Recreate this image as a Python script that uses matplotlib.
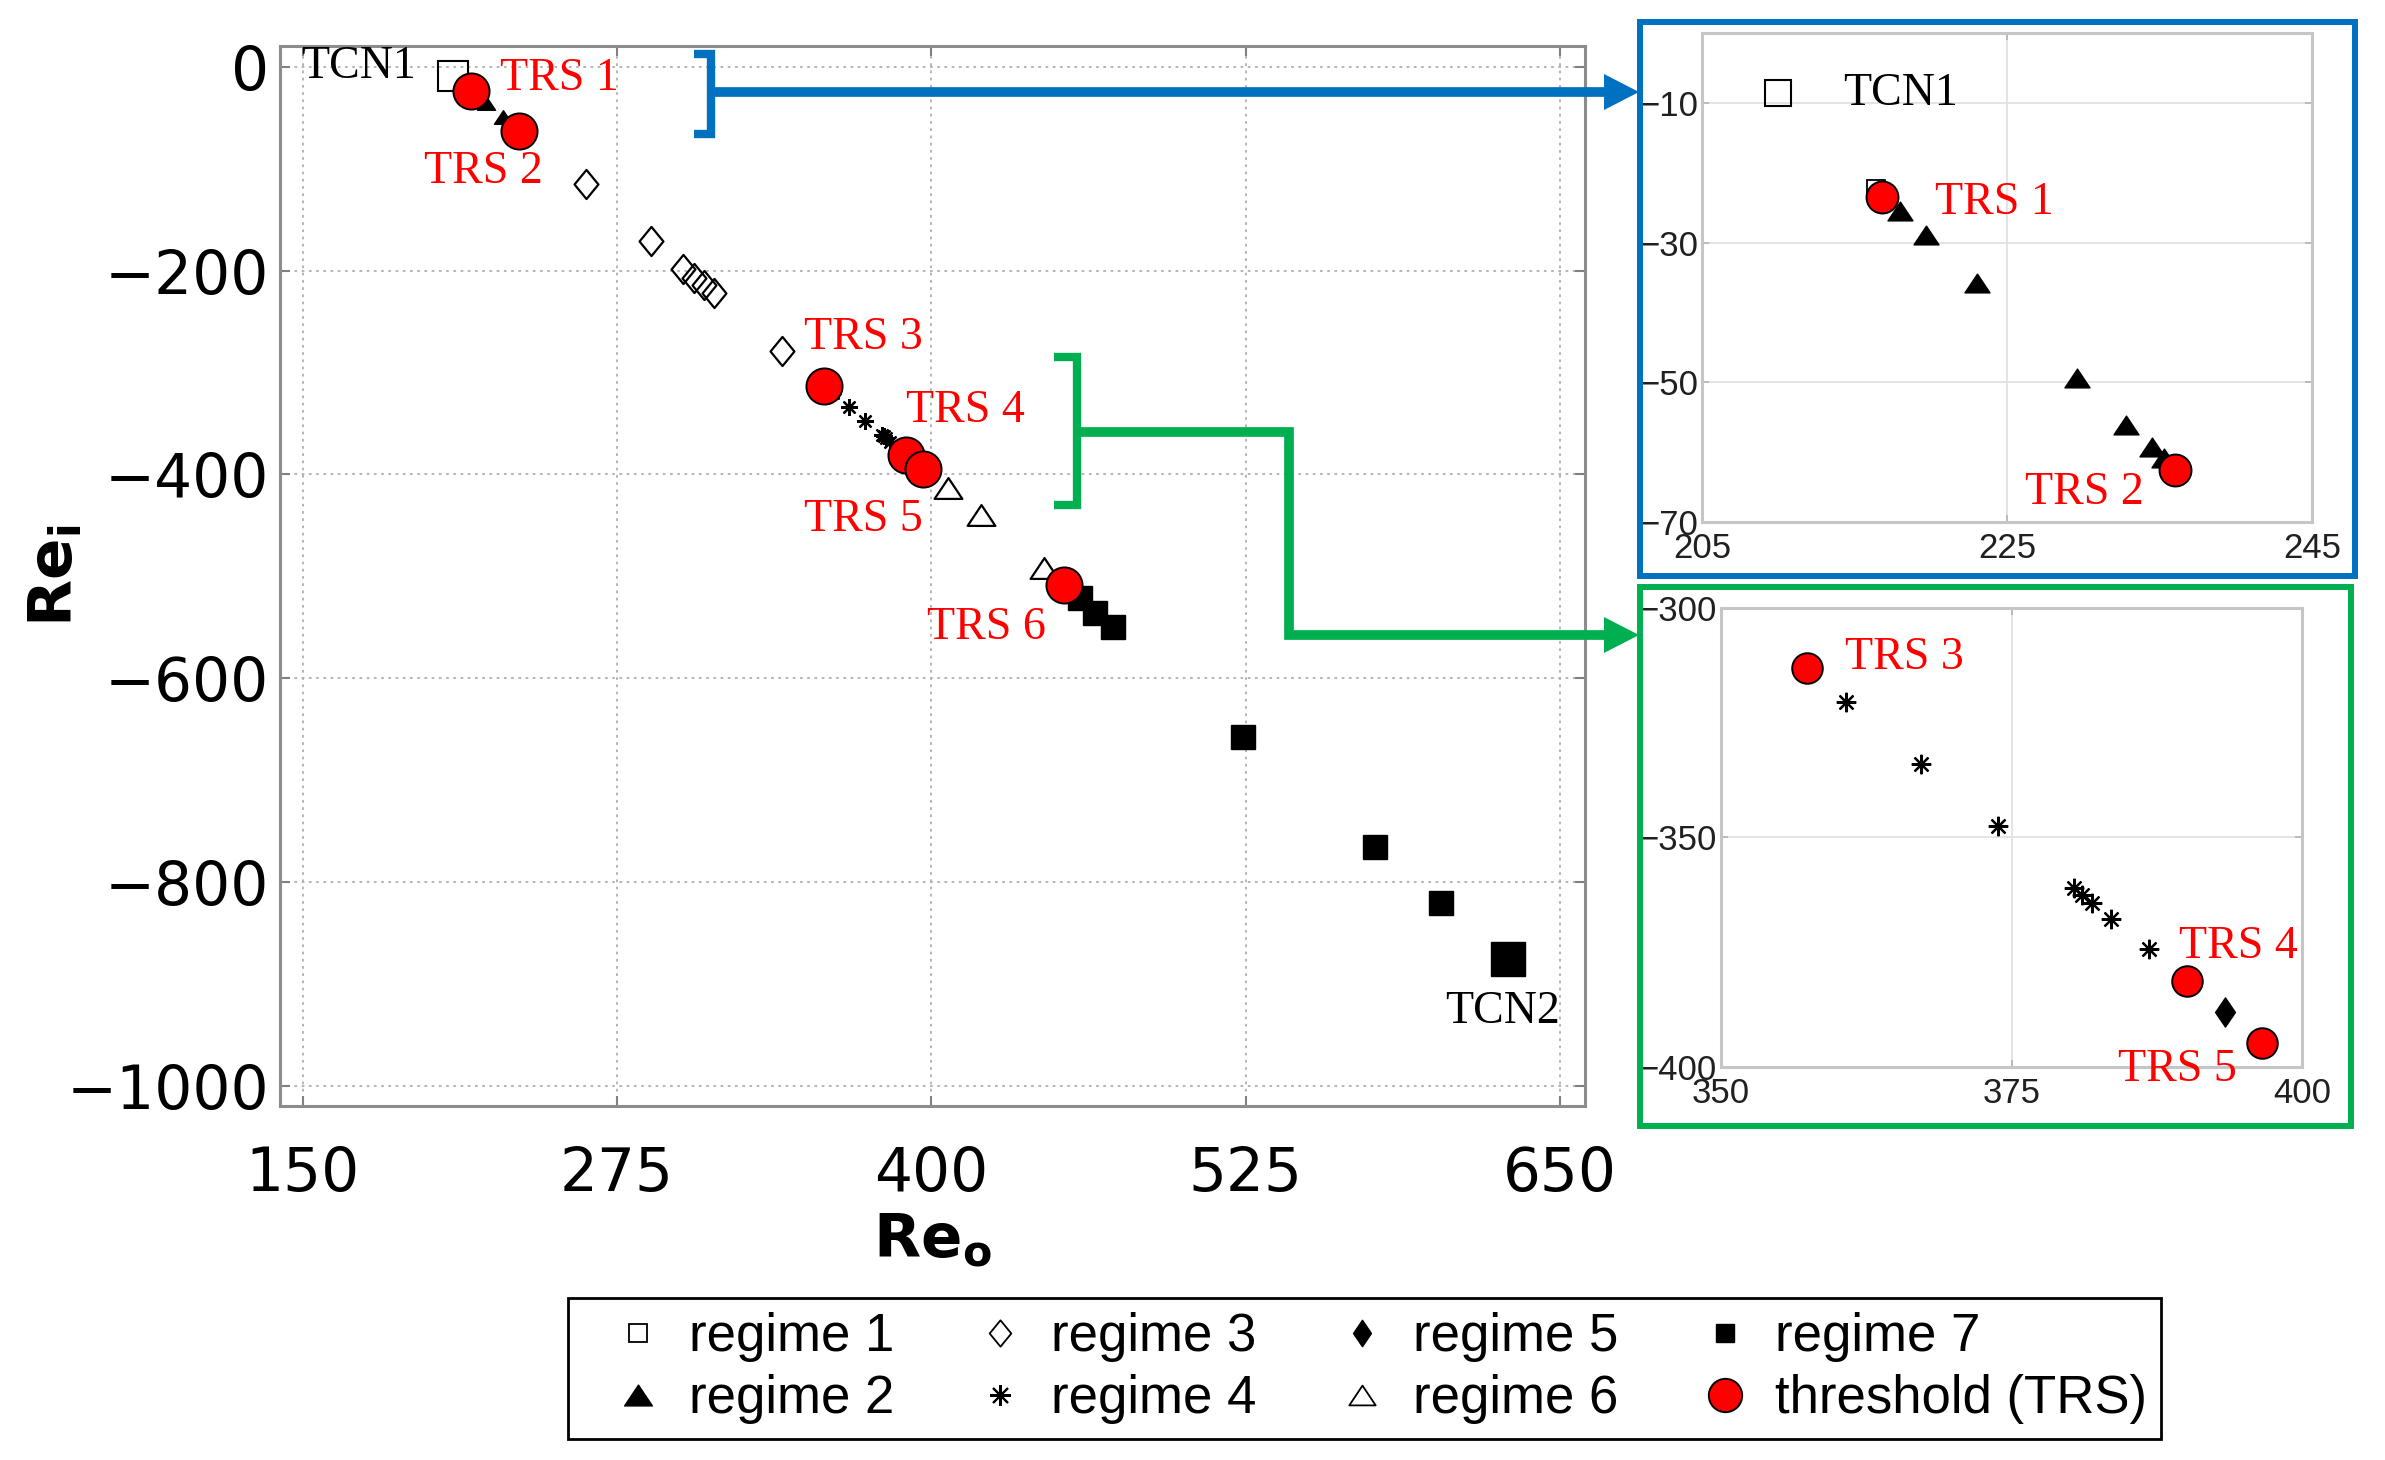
import matplotlib
matplotlib.use('Agg')
import matplotlib.pyplot as plt
from matplotlib.lines import Line2D
from matplotlib.patches import Rectangle, Polygon
from matplotlib.path import Path
from matplotlib import font_manager as fm

# ---------------- data ----------------
regime1_x = [216.4]
regime1_y = [-22.3]
regime2_x = [218.0, 219.7, 223.0, 229.6, 232.8, 234.5, 235.3]
regime2_y = [-25.5, -28.9, -35.7, -49.3, -56.1, -59.3, -60.8]
regime3_x = [262.5, 288.6, 301.2, 305.8, 309.8, 313.8, 340.7]
regime3_y = [-115.4, -170.5, -198.6, -206.9, -214.0, -222.2, -279.0]
regime4_x = [360.8, 367.2, 373.8, 380.4, 381.1, 381.9, 383.6, 386.8]
regime4_y = [-320.5, -333.9, -347.4, -361.0, -362.6, -364.3, -367.8, -374.4]
regime5_x = [393.4]
regime5_y = [-388.1]
regime6_x = [406.5, 419.7, 445.0]
regime6_y = [-413.4, -439.6, -492.0]
regime7_x = [459.0, 465.0, 472.2, 524.0, 576.4, 602.7, 629.3]
regime7_y = [-521.0, -536.0, -550.2, -658.0, -766.2, -820.3, -875.3]

trs_names = ['TRS 1', 'TRS 2', 'TRS 3', 'TRS 4', 'TRS 5', 'TRS 6']
trs_x = [216.8, 236.0, 357.4, 390.1, 396.6, 452.6]
trs_y = [-23.5, -62.5, -313.0, -381.2, -394.8, -508.4]

tcn_names = ['TCN1', 'TCN2']
tcn_x = [210.0, 629.3]
tcn_y = [-8.5, -875.3]

legend_labels = ['regime 1', 'regime 2', 'regime 3', 'regime 4',
                 'regime 5', 'regime 6', 'regime 7', 'threshold (TRS)']

main_xticks = [150, 275, 400, 525, 650]
main_yticks = [0, -200, -400, -600, -800, -1000]
blue_xticks = [205, 225, 245]
blue_yticks = [-10, -30, -50, -70]
green_xticks = [350, 375, 400]
green_yticks = [-300, -350, -400]

# annotation anchors (data coords of each panel)
main_trs_lx = [252.1, 221.9, 373.0, 413.5, 373.0, 421.9]
main_trs_ly = [-11.8, -103.0, -266.0, -337.7, -444.8, -550.8]
main_tcn_lx = [172.3, 627.0]
main_tcn_ly = [0.0, -927.0]
blue_lbl = [('TCN1', 218.0, -8.7, 'k'), ('TRS 1', 224.2, -24.2, 'red'), ('TRS 2', 230.1, -65.8, 'red')]
green_lbl = [('TRS 3', 365.8, -310.9, 'red'), ('TRS 4', 394.5, -373.7, 'red'), ('TRS 5', 389.3, -400.5, 'red')]

# ---------------- setup ----------------
W, H = 2385, 1460
fig = plt.figure(figsize=(W / 100, H / 100), dpi=100)
fig.patch.set_facecolor('white')


def F(px, py):
    return (px / W, 1 - py / H)


def has_font(name):
    try:
        fm.findfont(fm.FontProperties(family=name), fallback_to_default=False)
        return True
    except Exception:
        return False


if has_font('Liberation Sans Narrow'):
    inset_font, inset_fs = 'Liberation Sans Narrow', 28
else:
    inset_font, inset_fs = 'Liberation Sans', 25

serif = 'Liberation Serif'

tri_path = Path([(0, 0.75), (-1, -0.75), (1, -0.75), (0, 0.75)], closed=True)
dia_path = Path([(0, 1), (0.82, 0), (0, -1), (-0.82, 0), (0, 1)], closed=True)
fdia_path = Path([(0, 1), (0.68, 0), (0, -1), (-0.68, 0), (0, 1)], closed=True)
star_marker = (8, 2, 0)


def draw_series(ax, s):
    ax.plot(regime1_x, regime1_y, ls='none', marker='s', ms=s['r1'], mfc='none', mec='k', mew=1.3, zorder=3)
    ax.plot(regime2_x, regime2_y, ls='none', marker=tri_path, ms=s['r2'], mfc='k', mec='k', mew=1.0, zorder=3)
    ax.plot(regime3_x, regime3_y, ls='none', marker=dia_path, ms=s['r3'], mfc='none', mec='k', mew=1.6, zorder=3)
    ax.plot(regime4_x, regime4_y, ls='none', marker=star_marker, ms=s['r4'], mec='k', mew=1.6, zorder=3)
    ax.plot(regime5_x, regime5_y, ls='none', marker=fdia_path, ms=s['r5'], mfc='k', mec='k', mew=1.0, zorder=3)
    ax.plot(regime6_x, regime6_y, ls='none', marker=tri_path, ms=s['r6'], mfc='none', mec='k', mew=1.6, zorder=3)
    ax.plot(regime7_x, regime7_y, ls='none', marker='s', ms=s['r7'], mfc='k', mec='k', mew=1.0, zorder=3)
    ax.plot(tcn_x[:1], tcn_y[:1], ls='none', marker='s', ms=s['tcn1'], mfc='none', mec='k', mew=1.5, zorder=3)
    ax.plot(tcn_x[1:], tcn_y[1:], ls='none', marker='s', ms=s['tcn2'], mfc='k', mec='k', mew=1.0, zorder=3)
    ax.plot(trs_x, trs_y, ls='none', marker='o', ms=s['trs'], mfc='#ff0000', mec='k', mew=1.4, zorder=5)


# ---------------- main axes ----------------
ax = fig.add_axes([280 / W, 1 - 1106 / H, 1305 / W, 1060 / H])
ax.set_xlim(141, 660)
ax.set_ylim(-1020, 20.5)
ax.set_xticks(main_xticks)
ax.set_yticks(main_yticks)
ax.set_axisbelow(True)
ax.grid(True, color='#b0b0b0', lw=1.3, ls=(0, (1.5, 2.5)))
for sp in ax.spines.values():
    sp.set_color('#8c8c8c')
    sp.set_linewidth(2.2)
ax.tick_params(direction='in', length=7, width=1.5, color='#808080',
               top=True, right=True, labelsize=43)
ax.tick_params(axis='x', pad=28)
ax.tick_params(axis='y', pad=8)
for lab in ax.get_xticklabels() + ax.get_yticklabels():
    lab.set_fontfamily('DejaVu Sans')

draw_series(ax, dict(r1=9, r2=13, r3=21, r4=12, r5=14, r6=20, r7=17, trs=26, tcn1=22, tcn2=24))

for name, lx, ly in zip(trs_names, main_trs_lx, main_trs_ly):
    ax.text(lx, ly, name, color='#ff0000', fontsize=33, family=serif, ha='center', va='center', zorder=6)
for name, lx, ly in zip(tcn_names, main_tcn_lx, main_tcn_ly):
    ax.text(lx, ly, name, color='k', fontsize=33, family=serif, ha='center', va='center', zorder=6)

ax.set_xlabel(r'$\mathbf{Re}_{\mathbf{o}}$', fontsize=44)
ax.set_ylabel(r'$\mathbf{Re}_{\mathbf{i}}$', fontsize=44)
ax.xaxis.set_label_coords(0.5, -0.1)
ax.yaxis.set_label_coords(-0.149, 0.5)


# ---------------- insets ----------------
def style_inset(a, xlim, ylim, xt, yt):
    a.set_xlim(xlim)
    a.set_ylim(ylim)
    a.set_xticks(xt)
    a.set_yticks(yt)
    a.set_axisbelow(True)
    a.grid(True, color='#e2e2e2', lw=1.3, ls='-')
    for sp in a.spines.values():
        sp.set_color('#c6c6c6')
        sp.set_linewidth(2.2)
    a.tick_params(direction='in', length=5, width=1.2, color='#b4b4b4',
                  top=True, right=True, labelsize=inset_fs, labelcolor='#202020')
    a.tick_params(axis='x', pad=7)
    a.tick_params(axis='y', pad=3)
    for lab in a.get_xticklabels() + a.get_yticklabels():
        lab.set_fontfamily(inset_font)


axb = fig.add_axes([1702 / W, 1 - 522 / H, (2312 - 1702) / W, (522 - 33.5) / H])
style_inset(axb, (205, 245), (-70, 0), blue_xticks, blue_yticks)
draw_series(axb, dict(r1=13, r2=18, r3=21, r4=14, r5=21, r6=20, r7=17, trs=23, tcn1=19, tcn2=24))
for t, lx, ly, c in blue_lbl:
    axb.text(lx, ly, t, color=('#ff0000' if c == 'red' else c), fontsize=33, family=serif,
             ha='center', va='center', zorder=6)

axg = fig.add_axes([1721 / W, 1 - 1067 / H, (2302 - 1721) / W, (1067 - 608) / H])
style_inset(axg, (350, 400), (-400, -300), green_xticks, green_yticks)
draw_series(axg, dict(r1=13, r2=18, r3=21, r4=14, r5=21, r6=20, r7=17, trs=22, tcn1=19, tcn2=24))
for t, lx, ly, c in green_lbl:
    axg.text(lx, ly, t, color='#ff0000', fontsize=33, family=serif,
             ha='center', va='center', zorder=6)

# ---------------- boxes, brackets, arrows ----------------
BLUE = '#0070C0'
GREEN = '#00B050'


def box(x0, y0, x1, y1, color):
    (fx0, fy1) = F(x0, y1)
    rect = Rectangle((fx0, fy1), (x1 - x0) / W, (y1 - y0) / H, transform=fig.transFigure,
                     fill=False, ec=color, lw=4.3, joinstyle='miter', zorder=10)
    fig.add_artist(rect)


def poly(points, color, lw=7):
    xs = [F(px, py)[0] for px, py in points]
    ys = [F(px, py)[1] for px, py in points]
    fig.add_artist(Line2D(xs, ys, transform=fig.transFigure, color=color, lw=lw,
                          solid_capstyle='butt', solid_joinstyle='miter', zorder=10))


def head(tipx, tipy, color):
    pts = [F(tipx - 35, tipy - 18), F(tipx, tipy), F(tipx - 35, tipy + 18)]
    fig.add_artist(Polygon(pts, closed=True, transform=fig.transFigure, fc=color, ec=color,
                           lw=0, zorder=10))


box(1640, 22, 2355, 576, BLUE)
box(1640, 587, 2351, 1126, GREEN)

poly([(694, 54), (711, 54), (711, 134), (694, 134)], BLUE, lw=6)
poly([(711, 92), (1608, 92)], BLUE)
head(1639, 92, BLUE)

poly([(1054, 357), (1077, 357), (1077, 505), (1054, 505)], GREEN, lw=6)
poly([(1077, 432), (1289, 432), (1289, 635), (1608, 635)], GREEN)
head(1639, 635, GREEN)

# ---------------- legend ----------------
handles = [
    Line2D([], [], ls='none', marker='s', ms=13, mfc='none', mec='k', mew=1.3),
    Line2D([], [], ls='none', marker=tri_path, ms=20, mfc='k', mec='k'),
    Line2D([], [], ls='none', marker=dia_path, ms=19, mfc='none', mec='k', mew=1.3),
    Line2D([], [], ls='none', marker=star_marker, ms=15, mec='k', mew=1.5),
    Line2D([], [], ls='none', marker=fdia_path, ms=19, mfc='k', mec='k'),
    Line2D([], [], ls='none', marker=tri_path, ms=19, mfc='none', mec='k', mew=1.3),
    Line2D([], [], ls='none', marker='s', ms=13, mfc='k', mec='k'),
    Line2D([], [], ls='none', marker='o', ms=24, mfc='#ff0000', mec='k', mew=1.4),
]
leg = fig.legend(handles, legend_labels, loc='upper left', bbox_to_anchor=F(568, 1298),
                 ncol=4, prop={'family': 'Liberation Sans', 'size': 38},
                 handlelength=2.12, handletextpad=-0.1, columnspacing=0.95,
                 borderpad=0.27, labelspacing=0.23, borderaxespad=0.0,
                 frameon=True, fancybox=False, framealpha=1.0)
leg.get_frame().set_edgecolor('k')
leg.get_frame().set_linewidth(2.0)

fig.savefig('out.png', dpi=100, facecolor='white')
